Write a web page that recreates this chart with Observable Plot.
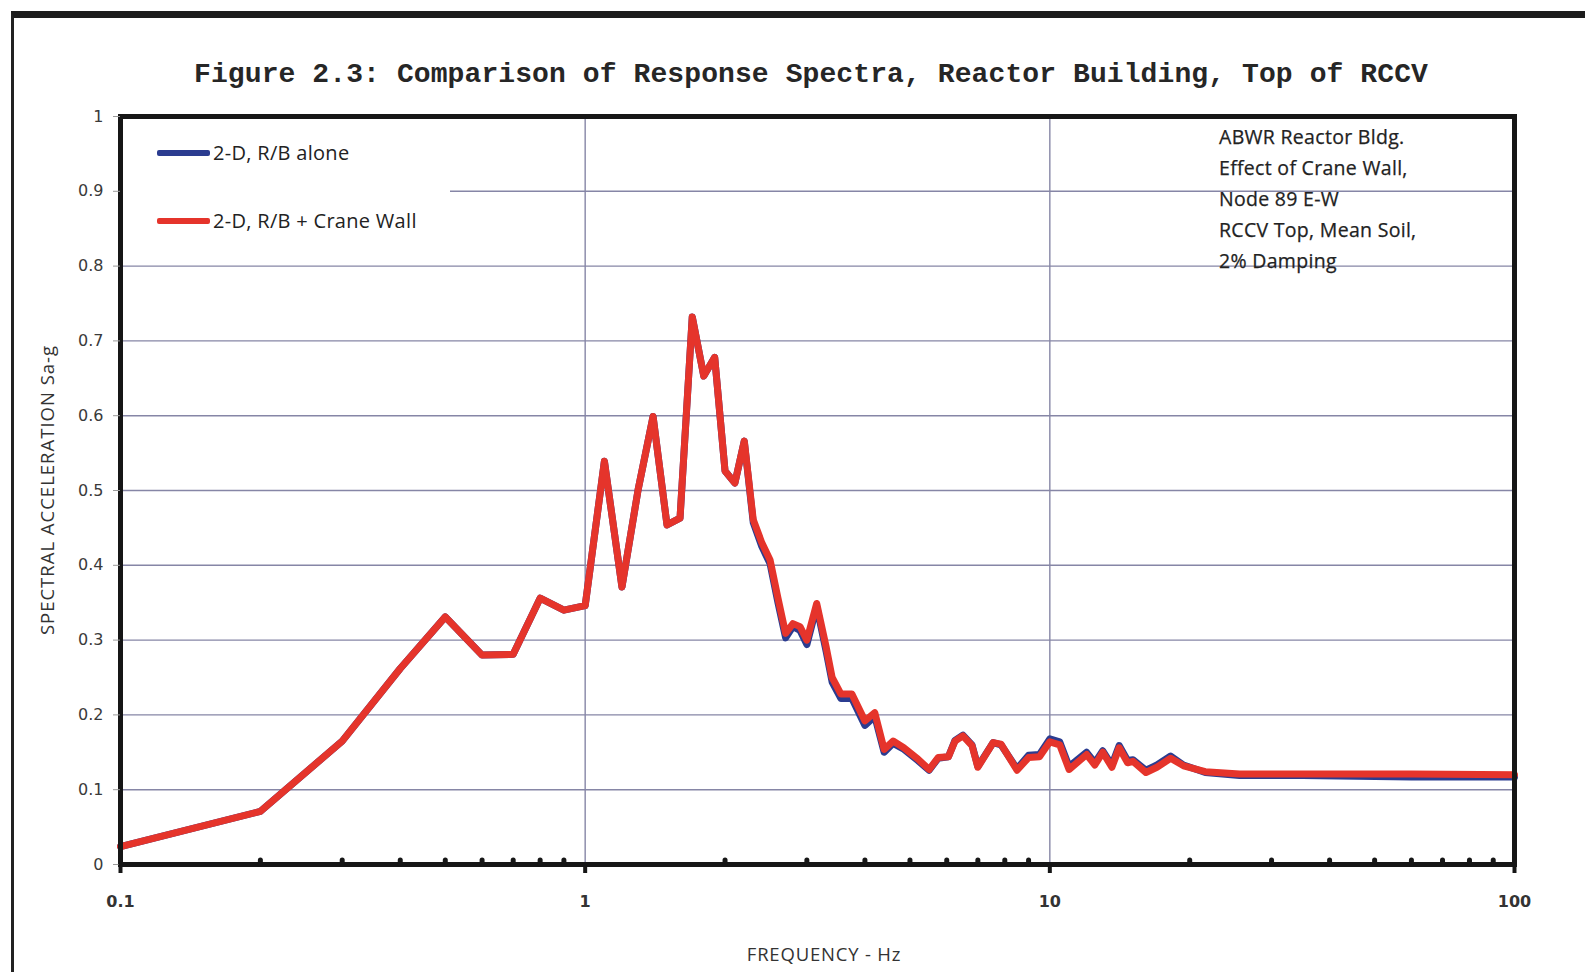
<!DOCTYPE html>
<html>
<head>
<meta charset="utf-8">
<script src="https://cdn.jsdelivr.net/npm/d3@7"></script>
<script src="https://cdn.jsdelivr.net/npm/@observablehq/plot@0.6"></script>
<style>
  html, body { margin: 0; padding: 0; background: #fff; }
  #page { position: relative; width: 1585px; height: 972px; overflow: hidden; background: #fff; }
  #outer { position: absolute; left: 11px; top: 11px; width: 1620px; height: 955px;
           border-top: 7px solid #1c1c1c; border-left: 3px solid #222; border-bottom: 3px solid #444; }
  #chart { position: absolute; left: 0; top: 0; }
  #title { position: absolute; left: 0; top: 57px; width: 1622px; text-align: center;
           font-family: "Liberation Mono", monospace; font-weight: bold; font-size: 28px; line-height: 36px; color: #262626; letter-spacing: 0.1px; }
  #legend { position: absolute; left: 123px; top: 119px; width: 327px; height: 126px; background: #fff; }
  .lg-row { position: absolute; left: 34px; height: 26px; }
  .lg-sw { position: absolute; left: 0; top: 10px; width: 53px; height: 6px; border-radius: 2px; }
  .lg-tx { position: absolute; left: 56px; top: 0; white-space: nowrap;
           font-family: "Open Sans", sans-serif; font-size: 20px; letter-spacing: 0.3px; line-height: 26px; color: #222; }
  #note { position: absolute; left: 1219px; top: 121px; font-family: "Open Sans", sans-serif;
          font-size: 19.5px; letter-spacing: 0.3px; line-height: 31px; color: #222; white-space: nowrap; -webkit-text-stroke: 0.25px #222; }
  #xtitle { position: absolute; left: 624px; width: 400px; top: 942px; text-align: center;
            font-family: "Open Sans", sans-serif; font-size: 18.5px; letter-spacing: 0.8px; line-height: 24px; color: #333; }
  #ytitle { position: absolute; left: 47px; top: 490px; transform: translate(-50%, -50%) rotate(-90deg);
            font-family: "Open Sans", sans-serif; font-size: 18.5px; letter-spacing: 1px; line-height: 24px; color: #333; white-space: nowrap; }
</style>
</head>
<body>
<div id="page">
  <div id="chart"></div>
  <div id="outer"></div>
  <div id="title"></div>
  <div id="legend"></div>
  <div id="note"></div>
  <div id="xtitle"></div>
  <div id="ytitle"></div>
</div>
<script>
// ---- Data ----
const titleText = "Figure 2.3: Comparison of Response Spectra, Reactor Building, Top of RCCV";
const xLabel = "FREQUENCY - Hz";
const yLabel = "SPECTRAL ACCELERATION Sa-g";
const seriesNames = ["2-D, R/B alone", "2-D, R/B + Crane Wall"];
const seriesColors = ["#2b3c90", "#e5342b"];
const noteLines = ["ABWR Reactor Bldg.", "Effect of Crane Wall,", "Node 89 E-W", "RCCV Top, Mean Soil,", "2% Damping"];

const freq = [0.1, 0.2, 0.3, 0.4, 0.5, 0.6, 0.7, 0.8, 0.9, 1.0,
  1.1, 1.2, 1.3, 1.4, 1.5, 1.6, 1.7, 1.8, 1.9, 2.0,
  2.1, 2.2, 2.3, 2.4, 2.5, 2.6, 2.7, 2.8, 2.9, 3.0,
  3.15, 3.3, 3.4, 3.55, 3.75, 4.0, 4.2, 4.4, 4.6, 4.85,
  5.2, 5.5, 5.75, 6.05, 6.25, 6.5, 6.8, 7.0, 7.55, 7.85,
  8.5, 9.0, 9.5, 10.0, 10.5, 11.0, 12.0, 12.5, 13.0, 13.6,
  14.1, 14.7, 15.1, 16.1, 17.0, 18.2, 19.4, 21.6, 25.6, 35,
  60, 100];

// 2-D, R/B + Crane Wall (red)
const craneWallSa = [0.024, 0.071, 0.165, 0.262, 0.331, 0.280, 0.281, 0.356, 0.340, 0.346,
  0.539, 0.371, 0.501, 0.599, 0.454, 0.463, 0.732, 0.653, 0.678, 0.526,
  0.510, 0.566, 0.461, 0.430, 0.407, 0.356, 0.309, 0.322, 0.318, 0.300,
  0.349, 0.291, 0.250, 0.228, 0.228, 0.192, 0.203, 0.154, 0.165, 0.156,
  0.141, 0.127, 0.143, 0.144, 0.165, 0.172, 0.159, 0.130, 0.163, 0.161,
  0.126, 0.143, 0.144, 0.164, 0.160, 0.127, 0.147, 0.133, 0.150, 0.130,
  0.156, 0.136, 0.138, 0.123, 0.130, 0.142, 0.132, 0.124, 0.121, 0.121,
  0.121, 0.120];

// 2-D, R/B alone (blue)
const aloneSa = [0.024, 0.071, 0.165, 0.262, 0.331, 0.280, 0.281, 0.356, 0.340, 0.346,
  0.539, 0.371, 0.501, 0.599, 0.454, 0.463, 0.732, 0.653, 0.678, 0.526,
  0.510, 0.566, 0.457, 0.425, 0.402, 0.350, 0.303, 0.318, 0.313, 0.294,
  0.345, 0.285, 0.244, 0.222, 0.222, 0.186, 0.198, 0.150, 0.162, 0.154,
  0.139, 0.126, 0.142, 0.144, 0.166, 0.173, 0.160, 0.131, 0.163, 0.160,
  0.128, 0.146, 0.147, 0.168, 0.164, 0.131, 0.150, 0.136, 0.152, 0.133,
  0.159, 0.139, 0.140, 0.126, 0.133, 0.145, 0.133, 0.123, 0.119, 0.119,
  0.117, 0.117];

const yTicks = [0, 0.1, 0.2, 0.3, 0.4, 0.5, 0.6, 0.7, 0.8, 0.9, 1];
const xTicks = [0.1, 1, 10, 100];
const xTickLabels = ["0.1", "1", "10", "100"];
const xGrid = [1, 10];
const xMinor = [0.2, 0.3, 0.4, 0.5, 0.6, 0.7, 0.8, 0.9, 2, 3, 4, 5, 6, 7, 8, 9, 20, 30, 40, 50, 60, 70, 80, 90];

// ---- Build tables ----
const alone = freq.map((f, i) => ({f, sa: aloneSa[i]}));
const crane = freq.map((f, i) => ({f, sa: craneWallSa[i]}));

const chart = Plot.plot({
  width: 1585,
  height: 972,
  marginLeft: 120,
  marginRight: 71,
  marginTop: 116,
  marginBottom: 108,
  style: {background: "transparent", fontFamily: "DejaVu Sans, sans-serif"},
  x: {type: "log", domain: [0.1, 100]},
  y: {domain: [0, 1]},
  marks: [
    Plot.gridY(yTicks, {stroke: "#8686a6", strokeOpacity: 1, strokeWidth: 1.4}),
    Plot.gridX(xGrid, {stroke: "#8686a6", strokeOpacity: 1, strokeWidth: 1.4}),
    Plot.line(alone, {x: "f", y: "sa", stroke: seriesColors[0], strokeWidth: 7, strokeLinejoin: "round", strokeLinecap: "round"}),
    Plot.line(crane, {x: "f", y: "sa", stroke: seriesColors[1], strokeWidth: 7, strokeLinejoin: "round", strokeLinecap: "round"}),
    Plot.frame({stroke: "#161616", strokeWidth: 5}),
    Plot.axisY(yTicks, {tickSize: 7, tickPadding: 10, stroke: "#9a9a9a", fill: "#3a3a3a", fontSize: 16, label: null, tickFormat: d => String(d)}),
    Plot.axisX(xMinor, {tickSize: -4, strokeWidth: 5, strokeLinecap: "round", stroke: "#161616", tickFormat: () => "", label: null}),
    Plot.axisX(xTicks, {tickSize: 9, strokeWidth: 4, stroke: "#161616", tickFormat: () => "", label: null}),
    Plot.axisX(xTicks, {tickSize: 0, tickPadding: 31, fill: "#333", fontSize: 16, fontWeight: "bold", label: null,
      tickFormat: d => xTickLabels[xTicks.indexOf(d)]})
  ]
});
document.getElementById("chart").appendChild(chart);

document.getElementById("title").textContent = titleText;
document.getElementById("xtitle").textContent = xLabel;
document.getElementById("ytitle").textContent = yLabel;

const legend = document.getElementById("legend");
seriesNames.forEach((name, i) => {
  const row = document.createElement("div");
  row.className = "lg-row";
  row.style.top = (21 + i * 68) + "px";
  const sw = document.createElement("div");
  sw.className = "lg-sw";
  sw.style.background = seriesColors[i];
  const tx = document.createElement("div");
  tx.className = "lg-tx";
  tx.textContent = name;
  row.appendChild(sw); row.appendChild(tx);
  legend.appendChild(row);
});

const note = document.getElementById("note");
noteLines.forEach(t => {
  const d = document.createElement("div");
  d.textContent = t;
  note.appendChild(d);
});
</script>
</body>
</html>
